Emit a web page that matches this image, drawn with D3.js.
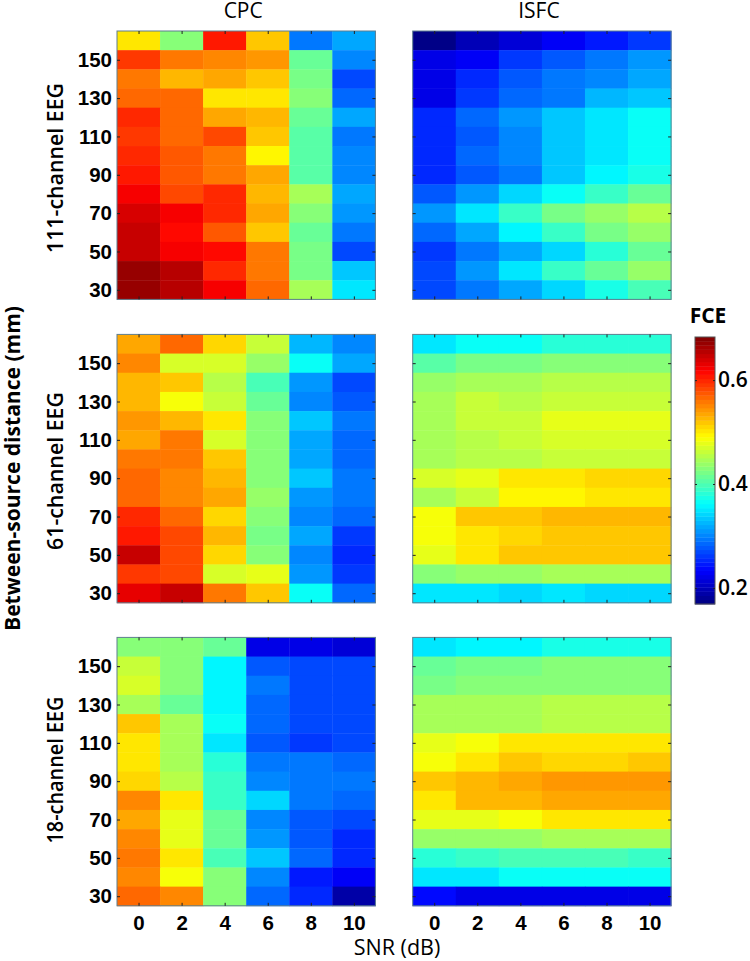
<!DOCTYPE html>
<html>
<head>
<meta charset="utf-8">
<script src="https://cdn.jsdelivr.net/npm/d3@7"></script>
<style>
html,body{margin:0;padding:0;background:#fff;}
svg{display:block;}
text{font-family:"Open Sans",sans-serif;fill:#000;}
.tick line{stroke:#222;stroke-width:1;}
.domain{display:none;}
</style>
</head>
<body>
<div id="chart"></div>
<script>
const snrTicks = [0, 2, 4, 6, 8, 10];
const distances = [160,150,140,130,120,110,100,90,80,70,60,50,40,30];
const distanceTicks = [30,50,70,90,110,130,150];
const barTicks = [0.2, 0.4, 0.6];
const valueRange = [0.169, 0.683];

const cpc111 = [
[.506,.434,.603,.516,.2975,.32],
[.587,.555,.547,.54,.41,.30],
[.555,.523,.538,.516,.418,.273],
[.57,.565,.506,.506,.434,.288],
[.595,.568,.538,.523,.41,.316],
[.587,.568,.579,.516,.402,.2975],
[.595,.572,.555,.498,.402,.305],
[.603,.572,.555,.538,.402,.30],
[.619,.583,.595,.523,.45,.316],
[.637,.619,.595,.538,.426,.309],
[.646,.611,.575,.516,.41,.29],
[.646,.619,.611,.555,.418,.273],
[.672,.655,.595,.56,.422,.33],
[.672,.655,.619,.57,.446,.346]];
const isfc111 = [
[.17,.198,.215,.233,.245,.265],
[.222,.233,.26,.28,.29,.31],
[.222,.257,.28,.29,.305,.32],
[.222,.26,.284,.2975,.326,.335],
[.257,.288,.31,.33,.346,.362],
[.25,.28,.30,.33,.346,.362],
[.253,.288,.305,.33,.346,.362],
[.25,.28,.2975,.33,.354,.37],
[.28,.31,.338,.362,.386,.41],
[.313,.35,.386,.418,.442,.454],
[.288,.32,.358,.386,.422,.442],
[.265,.2975,.32,.342,.378,.41],
[.273,.313,.35,.386,.41,.442],
[.273,.29,.32,.342,.37,.394]];
const cpc61 = [
[.534,.57,.51,.466,.326,.30],
[.547,.47,.474,.438,.362,.316],
[.525,.519,.458,.394,.309,.273],
[.523,.49,.466,.41,.30,.28],
[.543,.527,.502,.426,.33,.29],
[.534,.555,.47,.434,.32,.288],
[.56,.555,.519,.426,.32,.288],
[.57,.55,.53,.434,.33,.29],
[.57,.55,.538,.442,.313,.29],
[.595,.57,.51,.43,.30,.284],
[.603,.579,.527,.418,.316,.265],
[.646,.579,.51,.434,.305,.257],
[.587,.579,.474,.482,.313,.265],
[.63,.648,.56,.522,.362,.288]];
const isfc61 = [
[.346,.365,.365,.378,.378,.378],
[.402,.418,.422,.43,.43,.43],
[.442,.446,.45,.458,.458,.458],
[.446,.462,.458,.466,.466,.466],
[.446,.466,.462,.478,.478,.478],
[.446,.458,.466,.47,.47,.47],
[.446,.454,.458,.466,.466,.466],
[.47,.478,.502,.502,.51,.51],
[.45,.466,.494,.494,.502,.502],
[.49,.515,.519,.523,.523,.523],
[.49,.505,.51,.519,.519,.519],
[.482,.505,.515,.515,.515,.515],
[.434,.438,.442,.45,.45,.45],
[.346,.346,.338,.346,.342,.342]];
const cpc18 = [
[.426,.426,.41,.222,.222,.215],
[.466,.434,.354,.28,.273,.273],
[.47,.434,.354,.2975,.273,.273],
[.45,.41,.354,.288,.273,.273],
[.515,.446,.362,.288,.273,.273],
[.502,.45,.346,.28,.265,.269],
[.502,.446,.378,.2975,.292,.288],
[.51,.458,.386,.305,.292,.292],
[.547,.505,.386,.338,.292,.284],
[.538,.478,.41,.30,.28,.273],
[.547,.478,.41,.313,.28,.257],
[.56,.505,.394,.33,.288,.25],
[.547,.49,.434,.305,.245,.233],
[.57,.547,.426,.288,.257,.19]];
const isfc18 = [
[.346,.358,.358,.37,.37,.37],
[.41,.422,.422,.43,.43,.43],
[.422,.43,.43,.434,.434,.434],
[.446,.446,.446,.454,.454,.454],
[.446,.45,.45,.454,.454,.454],
[.478,.49,.502,.502,.502,.502],
[.49,.505,.515,.51,.51,.519],
[.522,.527,.534,.543,.543,.543],
[.505,.527,.53,.534,.534,.534],
[.482,.482,.49,.502,.502,.502],
[.438,.438,.442,.446,.446,.446],
[.378,.386,.394,.394,.394,.386],
[.346,.346,.362,.362,.362,.362],
[.24,.225,.225,.225,.225,.225]];

const rowLabels = ["111-channel EEG","61-channel EEG","18-channel EEG"];
const columnTitles = ["CPC","ISFC"];
const panelData = [[cpc111,isfc111],[cpc61,isfc61],[cpc18,isfc18]];

const W = 750, H = 961;
const colX = [117, 412.7], rowY = [31, 334.4, 637.4];
const pw = 258.4, ph = 268.4;

const clamp = v => Math.max(0, Math.min(1, v));
function jet(t){
  const q = (Math.min(63, Math.floor(t*64)) + .5)/64;
  const r = clamp(Math.min(4*q-1.5, -4*q+4.5));
  const g = clamp(Math.min(4*q-0.5, -4*q+3.5));
  const b = clamp(Math.min(4*q+0.5, -4*q+2.5));
  return d3.rgb(r*255, g*255, b*255).formatHex();
}
const color = d3.scaleSequential(jet).domain(valueRange);

const svg = d3.select("#chart").append("svg").attr("width",W).attr("height",H);
const x = d3.scaleLinear().domain([-1,11]).range([0,pw]);
const y = d3.scaleLinear().domain([25,165]).range([ph,0]);
const frame = "#5f7f8f";
const tickFont = '"Liberation Sans",Arial,sans-serif';

panelData.forEach((row,ri)=>{
  row.forEach((grid,ci)=>{
    const g = svg.append("g").attr("transform",`translate(${colX[ci]},${rowY[ri]})`);
    distances.forEach((d,i)=>{
      snrTicks.forEach((s,j)=>{
        g.append("rect")
          .attr("x",x(s-1)).attr("y",y(d+5))
          .attr("width",x(s+1)-x(s-1)+.4).attr("height",y(d-5)-y(d+5)+.4)
          .attr("fill",color(grid[i][j]));
      });
    });
    g.append("rect").attr("width",pw).attr("height",ph)
      .attr("fill","none").attr("stroke",frame).attr("stroke-width",1);
    const axB = g.append("g").attr("transform",`translate(0,${ph})`)
      .call(d3.axisBottom(x).tickValues(snrTicks).tickSize(-3).tickPadding(10)
        .tickFormat(ri===2?d3.format("d"):""));
    g.append("g").call(d3.axisTop(x).tickValues(snrTicks).tickSize(-3).tickFormat(""));
    const axL = g.append("g").call(d3.axisLeft(y).tickValues(distanceTicks).tickSize(-3).tickPadding(5)
        .tickFormat(ci===0?d3.format("d"):""));
    g.append("g").attr("transform",`translate(${pw},0)`)
      .call(d3.axisRight(y).tickValues(distanceTicks).tickSize(-3).tickFormat(""));
    [axB,axL].forEach(a=>a.selectAll("text")
      .style("font-size","20.5px").style("font-weight","700").style("font-family",tickFont));
  });
});

const rowCenter = [168, 471, 770];
const rowLength = [170, 158, 147];
rowLabels.forEach((t,i)=>{
  svg.append("text").attr("transform",`translate(63,${rowCenter[i]}) rotate(-90)`)
    .attr("text-anchor","middle")
    .attr("textLength",rowLength[i]).attr("lengthAdjust","spacingAndGlyphs")
    .style("font-size","22px").style("font-weight","600").text(t);
});
columnTitles.forEach((t,i)=>{
  svg.append("text").attr("x",colX[i]+pw/2-3).attr("y",18)
    .attr("text-anchor","middle")
    .style("font-size","21px").style("font-weight","500").text(t);
});
svg.append("text").attr("transform","translate(20,468.5) rotate(-90)")
  .attr("text-anchor","middle")
  .attr("textLength",325).attr("lengthAdjust","spacingAndGlyphs")
  .style("font-size","21px").style("font-weight","700").text("Between-source distance (mm)");
svg.append("text").attr("x",397).attr("y",955).attr("text-anchor","middle")
  .style("font-size","21.5px").style("font-weight","500").text("SNR (dB)");
svg.append("text").attr("x",708).attr("y",323).attr("text-anchor","middle")
  .style("font-size","21px").style("font-weight","700").text("FCE");

// colour bar
const barX = 695, barY = 337, barW = 20, barH = 267;
const barScale = d3.scaleLinear().domain(valueRange).range([barH,0]);
const bar = svg.append("g").attr("transform",`translate(${barX},${barY})`);
d3.range(64).forEach(i=>{
  const v0 = valueRange[0]+(valueRange[1]-valueRange[0])*i/64;
  const v1 = valueRange[0]+(valueRange[1]-valueRange[0])*(i+1)/64;
  bar.append("rect").attr("x",0).attr("width",barW)
    .attr("y",barScale(v1)).attr("height",barScale(v0)-barScale(v1)+.4)
    .attr("fill",color((v0+v1)/2));
});
bar.append("rect").attr("width",barW).attr("height",barH).attr("fill","none").attr("stroke","#555").attr("stroke-width",1);
bar.append("g").call(d3.axisLeft(barScale).tickValues(barTicks).tickSize(-2).tickFormat(""));
const axBar = bar.append("g").attr("transform",`translate(${barW},0)`)
  .call(d3.axisRight(barScale).tickValues(barTicks).tickSize(-2).tickPadding(3).tickFormat(d3.format(".1f")));
axBar.selectAll("text").style("font-size","21px").style("font-weight","600").style("font-family",'"Open Sans",sans-serif');
</script>
</body>
</html>
